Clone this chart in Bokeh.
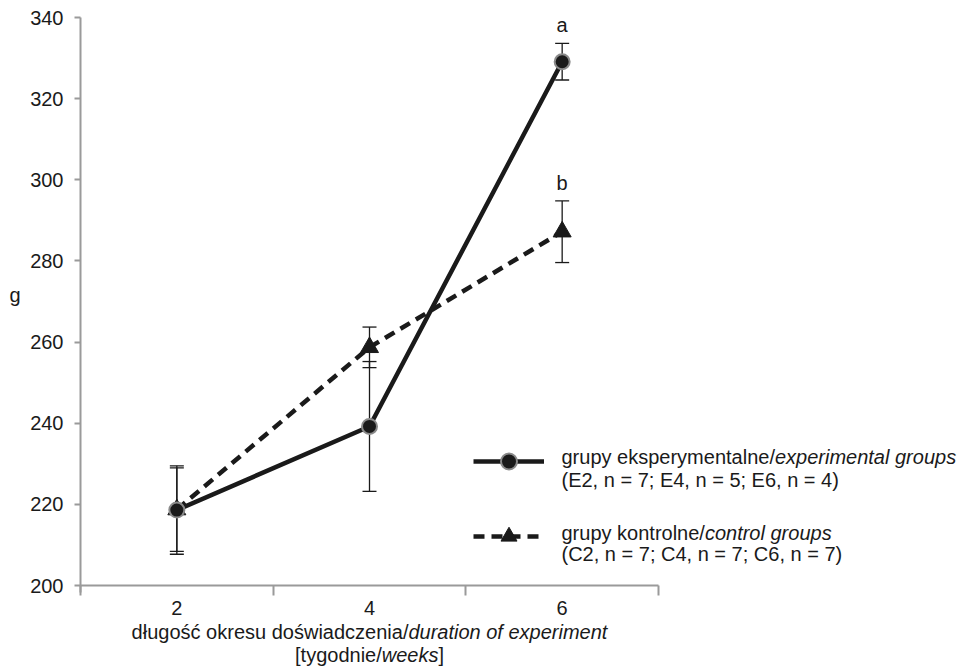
from bokeh.plotting import figure
from bokeh.models import (ColumnDataSource, Whisker, TeeHead, Label, Legend,
                          LegendItem, FixedTicker, Range1d)
from bokeh.embed import file_html
from bokeh.resources import INLINE

# ---------------- data ----------------
weeks = [2, 4, 6]
exp_mean = [218.6, 239.2, 329.1]
exp_sd = [10.9, 16.0, 4.5]
ctrl_mean = [218.7, 258.7, 287.2]
ctrl_sd = [10.3, 5.0, 7.6]
sig_letters = ["a", "b"]          # significance letters at week 6 (exp, ctrl)
y_ticks = [200, 220, 240, 260, 280, 300, 320, 340]
x_tick_labels = ["2", "4", "6"]

exp_label = [("grupy eksperymentalne/", False), ("experimental groups", True)]
exp_n = [("(E2, n = 7; E4, n = 5; E6, n = 4)", False)]
ctrl_label = [("grupy kontrolne/", False), ("control groups", True)]
ctrl_n = [("(C2, n = 7; C4, n = 7; C6, n = 7)", False)]
x_title_1 = [("długość okresu doświadczenia/", False), ("duration of experiment", True)]
x_title_2 = [("[tygodnie/", False), ("weeks", True), ("]", False)]
y_title = "g"

# ---------------- layout (canvas pixels) ----------------
W, H = 964, 669
LEFT, TOP, RIGHT, BOTTOM = 80, 17, 658, 585
FONT = "Liberation Sans"
FS = 20
TXT = "#1a1a1a"
AX = "#9a9a9a"

x0, x1 = weeks[0] - 1, weeks[-1] + 1
y0, y1 = y_ticks[0], y_ticks[-1]
xs = (RIGHT - LEFT) / (x1 - x0)
ys = (BOTTOM - TOP) / (y1 - y0)

# the frame spans the whole canvas; axes are pinned with fixed_location
p = figure(width=W, height=H, output_backend="svg", toolbar_location=None,
           x_range=Range1d(x0 - LEFT / xs, x1 + (W - RIGHT) / xs),
           y_range=Range1d(y0 - (H - BOTTOM) / ys, y1 + TOP / ys),
           min_border=0)
p.outline_line_color = None
p.xgrid.visible = False
p.ygrid.visible = False
p.background_fill_color = "white"
p.border_fill_color = "white"

xa, ya = p.xaxis[0], p.yaxis[0]
xa.fixed_location = y0
ya.fixed_location = x0
xa.bounds = (x0, x1)
ya.bounds = (y0 - 1.7, y1)
xa.ticker = FixedTicker(ticks=weeks,
                        minor_ticks=[w - 1 for w in weeks] + [weeks[-1] + 1])
xa.major_label_overrides = {w: l for w, l in zip(weeks, x_tick_labels)}
ya.ticker = FixedTicker(ticks=y_ticks)
for ax in (xa, ya):
    ax.axis_line_color = AX
    ax.axis_line_width = 2
    ax.major_tick_line_color = AX
    ax.major_tick_line_width = 2
    ax.minor_tick_line_color = AX
    ax.minor_tick_line_width = 2
    ax.major_tick_in = 0
    ax.minor_tick_in = 0
    ax.major_label_text_font = FONT
    ax.major_label_text_font_size = f"{FS}px"
    ax.major_label_text_color = TXT
xa.major_tick_out = 0
xa.minor_tick_out = 10
xa.major_label_standoff = 5
ya.major_tick_out = 6
ya.minor_tick_out = 0
ya.major_label_standoff = 11

# sources
src_e = ColumnDataSource(dict(x=weeks, y=exp_mean,
                              lo=[m - s for m, s in zip(exp_mean, exp_sd)],
                              hi=[m + s for m, s in zip(exp_mean, exp_sd)]))
src_c = ColumnDataSource(dict(x=weeks, y=ctrl_mean,
                              lo=[m - s for m, s in zip(ctrl_mean, ctrl_sd)],
                              hi=[m + s for m, s in zip(ctrl_mean, ctrl_sd)]))

for src in (src_e, src_c):
    w = Whisker(base="x", upper="hi", lower="lo", source=src,
                line_color="#1a1a1a", line_width=1.3,
                upper_head=TeeHead(size=14, line_color="#1a1a1a", line_width=1.3),
                lower_head=TeeHead(size=14, line_color="#1a1a1a", line_width=1.3))
    p.add_layout(w)

c_line = p.line("x", "y", source=src_c, line_color="#1a1a1a", line_width=4.5,
                line_dash="11 7")
e_line = p.line("x", "y", source=src_e, line_color="#1a1a1a", line_width=4.5)
c_pts = p.scatter("x", "y", source=src_c, marker="triangle", size=18,
                  fill_color="#1a1a1a", line_color="#1a1a1a")
e_pts = p.scatter("x", "y", source=src_e, marker="circle", size=15,
                  fill_color="#1a1a1a", line_color="#8a8a8a", line_width=2)

# significance letters above the week-6 error bars
sig_src = ColumnDataSource(dict(
    x=[weeks[-1], weeks[-1]],
    y=[exp_mean[-1] + exp_sd[-1], ctrl_mean[-1] + ctrl_sd[-1]],
    t=sig_letters))
p.text("x", "y", text="t", source=sig_src, text_align="center",
       text_baseline="alphabetic", y_offset=-18, text_font_size=f"{FS}px",
       text_color=TXT, text_font={"value": FONT})

# legend (glyph samples only; texts are drawn as labels)
legend = Legend(items=[LegendItem(label=" ", renderers=[e_line, e_pts]),
                       LegendItem(label=" ", renderers=[c_line, c_pts])],
                location=(473, H - 556),
                glyph_width=71, glyph_height=40, spacing=35,
                padding=0, margin=0, label_standoff=0, label_width=1,
                label_text_font_size="1px",
                background_fill_alpha=0, border_line_alpha=0)
p.add_layout(legend)


# ---------------- text helpers ----------------
ARIAL = {' ': 278, '/': 278, '[': 278, ']': 278, '(': 333, ')': 333, ',': 278,
         ';': 278, '=': 584, 'E': 667, 'C': 722, 'a': 556, 'b': 556, 'c': 500,
         'd': 556, 'e': 556, 'f': 278, 'g': 556, 'h': 556, 'i': 222, 'j': 222,
         'k': 500, 'l': 222, 'm': 833, 'n': 556, 'o': 556, 'p': 556, 'q': 556,
         'r': 333, 's': 500, 't': 278, 'u': 556, 'v': 500, 'w': 722, 'x': 500,
         'y': 500, 'z': 500, 'ł': 222, 'ś': 500, 'ć': 500}


def tw(s):
    return sum(ARIAL.get(ch, 556) for ch in s) * FS / 1000.0


def add_text_line(parts, x, baseline, centered=False):
    total = sum(tw(t) for t, _ in parts)
    sx = x - total / 2 if centered else x
    for t, ital in parts:
        p.add_layout(Label(x=sx, y=H - baseline,
                           x_units="screen", y_units="screen", text=t,
                           text_font=FONT, text_font_size=f"{FS}px",
                           text_font_style="italic" if ital else "normal",
                           text_color=TXT, text_align="left",
                           text_baseline="alphabetic"))
        sx += tw(t)


add_text_line(exp_label, 561, 456)
add_text_line(exp_n, 561, 479)
add_text_line(ctrl_label, 561, 532)
add_text_line(ctrl_n, 561, 553)
add_text_line(x_title_1, (LEFT + RIGHT) / 2, 631, centered=True)
add_text_line(x_title_2, (LEFT + RIGHT) / 2, 654, centered=True)
add_text_line([(y_title, False)], 9, 294)

open("out.html", "w").write(file_html(p, INLINE))
